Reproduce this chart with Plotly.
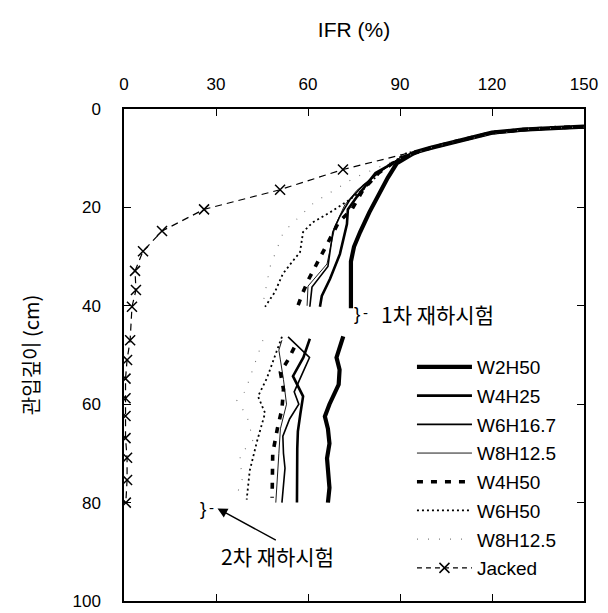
import plotly.graph_objects as go

# IFR (%) versus penetration depth (cm); None separates 1st and 2nd loading stages
w2h50_ifr = [150, 140, 130, 120, 110, 100, 95, 89, 86, 83, 80, 77, 75, 74, 74, 74,
             None, 71.5, 70.5, 69.3, 70.3, 70, 67, 65.5, 66.5, 67, 66.2, 66.7, 67, 66.5]
w2h50_dep = [3.6, 3.8, 4.2, 4.8, 6.3, 7.9, 8.8, 11, 14, 17.5, 21, 25, 28, 31, 35, 40.5,
             None, 46.2, 48, 50.5, 53, 56, 60, 62.5, 65, 68, 71, 74, 77, 80]

w4h25_ifr = [150, 140, 130, 120, 110, 100, 92, 86, 82, 76, 73, 72.7, 70.4, 67.2, 64.5, 63.9,
             None, 60.6, 58.5, 55.1, 58.4, 57.5, 56.7, 56.5, 56.4, 56.4]
w4h25_dep = [3.7, 3.9, 4.3, 4.9, 6.4, 7.9, 9.5, 11.5, 13, 17.8, 20.4, 23.4, 29.5, 34.5, 38, 40.2,
             None, 46.7, 50.5, 54.3, 58.4, 62, 65.5, 69, 72.3, 80]

w6h167_ifr = [150, 140, 130, 120, 110, 100, 90, 84, 78, 73.7, 70.4, 68.1, 66.5, 61.3, 60.6,
              None, 53.5, 57, 60.5, 58, 55.5, 57, 54, 51.8, 52, 52.5, 51.5]
w6h167_dep = [3.6, 3.8, 4.2, 4.8, 6.3, 7.9, 10, 12.5, 15.5, 18.4, 21.8, 25, 32, 36.2, 40.2,
              None, 46.3, 48.5, 50.5, 54, 57.5, 60, 63, 66.5, 70, 73, 80]

w8h125_ifr = [150, 140, 130, 120, 110, 100, 90, 83, 76, 72, 68.8, 66.2, 60, 59.7,
              None, 51.5, 50.5, 51, 52, 53, 51, 50.5, 50, 49.5]
w8h125_dep = [3.6, 3.8, 4.2, 4.8, 6.3, 7.9, 10, 13, 16.5, 19.5, 23.8, 31.5, 36, 40,
              None, 47, 49, 51, 55, 60, 65, 70, 75, 80]

w4h50_ifr = [150, 140, 130, 120, 110, 100, 90, 83, 78, 74.3, 70, 64.9, 62.3, 60.3, 58.4, 56.7,
             None, 55.5, 53.5, 51, 52, 51.5, 50, 48.5, 48.5, 48.3]
w4h50_dep = [3.6, 3.8, 4.2, 4.8, 6.3, 7.9, 10, 13, 16.4, 20.4, 23, 28.9, 32.1, 34.5, 37.2, 40,
             None, 48.5, 51, 53.5, 57, 61, 65, 70, 74, 79]

w6h50_ifr = [150, 140, 130, 120, 110, 100, 92, 85, 78, 72.7, 67.2, 61.6, 58.4, 57.4, 54.8, 51.8, 49.2, 46,
             None, 51.5, 46.6, 43.7, 46, 43.4, 41, 40]
w6h50_dep = [3.6, 3.8, 4.2, 4.8, 6.3, 7.9, 9, 12, 16.4, 18.8, 21, 23, 25, 29.1, 31.1, 33.5, 37.2, 40.2,
             None, 46.3, 54.7, 58.4, 61.8, 67.5, 73.5, 79.4]

w8h125b_ifr = [150, 130, 110, 100, 88, 75, 62, 52, 47.6, 45.3,
               None, 45.3, 39.5, 36.8, 40.1, 42.1, 37.8, 38.5, 36.2]
w8h125b_dep = [3.6, 4.2, 6.3, 7.9, 10.5, 14, 19, 25, 32.1, 39.6,
               None, 47, 57.4, 59.2, 62.4, 67.3, 70.3, 75.4, 79.4]

jacked_ifr = [150, 130, 120, 100, 71.4, 50.9, 26.1, 12.4, 6.2, 3.6, 3.9, 2.6, 2.0, 1.0,
              0.5, 0.5, 0.5, 0.5, 1.0, 1.0, 0.6]
jacked_dep = [3.5, 4.0, 4.7, 7.8, 12.3, 16.4, 20.4, 24.8, 28.9, 32.9, 36.8, 40.2, 47, 51,
              54.8, 58.8, 62.4, 66.9, 70.9, 75.4, 80]
jacked_mark_ifr = jacked_ifr[4:]
jacked_mark_dep = jacked_dep[4:]

x_ticks = [0, 30, 60, 90, 120, 150]
y_ticks = [0, 20, 40, 60, 80, 100]

FONT = "Liberation Sans, Arial, Noto Sans CJK KR, sans-serif"
KFONT = "Noto Sans CJK KR, Liberation Sans, sans-serif"

fig = go.Figure()


def add_line(name, xs, ys, width, dash="solid", color="black"):
    fig.add_trace(go.Scatter(
        x=xs, y=ys, mode="lines", name=name, legendgroup=name,
        line=dict(color=color, width=width, dash=dash),
        connectgaps=False,
    ))


add_line("W2H50", w2h50_ifr, w2h50_dep, 4.2)
add_line("W4H25", w4h25_ifr, w4h25_dep, 2.6)
add_line("W6H16.7", w6h167_ifr, w6h167_dep, 1.6)
add_line("W8H12.5", w8h125_ifr, w8h125_dep, 0.9)
add_line("W4H50", w4h50_ifr, w4h50_dep, 3.6, dash="6px,8px")
add_line("W6H50", w6h50_ifr, w6h50_dep, 1.8, dash="2px,3px")
fig.add_trace(go.Scatter(
    x=w8h125b_ifr, y=w8h125b_dep, mode="lines", name="W8H12.5 ", legendgroup="W8H12.5b",
    line=dict(color="#777777", width=1.1, dash="1px,10px"),
))
fig.add_trace(go.Scatter(
    x=jacked_ifr, y=jacked_dep, mode="lines", name="Jacked", legendgroup="Jacked",
    line=dict(color="black", width=1.2, dash="7px,5px"),
    showlegend=False,
))
fig.add_trace(go.Scatter(
    x=jacked_mark_ifr, y=jacked_mark_dep, mode="markers", name="Jacked", legendgroup="Jacked",
    marker=dict(symbol="x-thin-open", size=10, color="black",
                line=dict(color="black", width=1.5)),
    showlegend=False,
))
# legend sample for the jacked series (dashed line with a cross)
fig.add_trace(go.Scatter(
    x=[None], y=[None], mode="lines+markers", name="Jacked", legendgroup="Jacked",
    line=dict(color="black", width=1.2, dash="5px,4px"),
    marker=dict(symbol="x-thin-open", size=10, color="black",
                line=dict(color="black", width=1.5)),
))

# loading-stage labels
fig.add_annotation(x=76, y=41.6, text="}", showarrow=False, xanchor="center", yanchor="middle",
                   font=dict(family=FONT, size=19, color="black"))
fig.add_annotation(x=78.6, y=41.4, text="-", showarrow=False, xanchor="center", yanchor="middle",
                   font=dict(family=FONT, size=15, color="black"))
fig.add_annotation(x=83.3, y=41.6, text="1차 재하시험", showarrow=False, xanchor="left",
                   yanchor="middle", font=dict(family=KFONT, size=21, color="black"))

fig.add_annotation(x=25.8, y=81.2, text="}", showarrow=False, xanchor="center", yanchor="middle",
                   font=dict(family=FONT, size=19, color="black"))
fig.add_annotation(x=28.4, y=81.0, text="-", showarrow=False, xanchor="center", yanchor="middle",
                   font=dict(family=FONT, size=15, color="black"))
fig.add_annotation(x=30.5, y=81.2, ax=50, ay=87.8, axref="x", ayref="y", text="",
                   showarrow=True, arrowhead=2, arrowsize=1.4, arrowwidth=1.4, arrowcolor="black")
fig.add_annotation(x=31, y=90.8, text="2차 재하시험", showarrow=False, xanchor="left",
                   yanchor="middle", font=dict(family=KFONT, size=21, color="black"))

fig.update_layout(
    width=608, height=613,
    margin=dict(l=124, r=24, t=109, b=12, autoexpand=False),
    paper_bgcolor="white", plot_bgcolor="white",
    font=dict(family=FONT, size=17, color="black"),
    showlegend=True,
    legend=dict(
        x=0.626, y=0.514, xanchor="left", yanchor="top",
        bgcolor="rgba(0,0,0,0)", borderwidth=0,
        font=dict(family=FONT, size=19, color="black"),
        traceorder="grouped", tracegroupgap=1,
        itemwidth=55,
    ),
    xaxis=dict(
        side="top", range=[0, 150], tickvals=x_ticks, ticktext=[str(v) for v in x_ticks],
        ticks="inside", ticklen=7, tickwidth=1.2, tickcolor="black",
        showline=True, linecolor="black", linewidth=1.5, mirror="ticks",
        showgrid=False, zeroline=False, ticklabelstandoff=10, automargin=False,
        tickfont=dict(family=FONT, size=17),
        title=dict(text="IFR (%)", standoff=32, font=dict(family=FONT, size=21)),
    ),
    yaxis=dict(
        range=[100, 0], tickvals=y_ticks, ticktext=[str(v) for v in y_ticks],
        ticks="inside", ticklen=7, tickwidth=1.2, tickcolor="black",
        showline=True, linecolor="black", linewidth=1.5, mirror="ticks",
        showgrid=False, zeroline=False, ticklabelstandoff=18, automargin=False,
        ticklabeloverflow="allow",
        tickfont=dict(family=FONT, size=17),
        title=dict(text="관입깊이 (cm)", standoff=27, font=dict(family=KFONT, size=20)),
    ),
)

fig.write_html("out.html")
